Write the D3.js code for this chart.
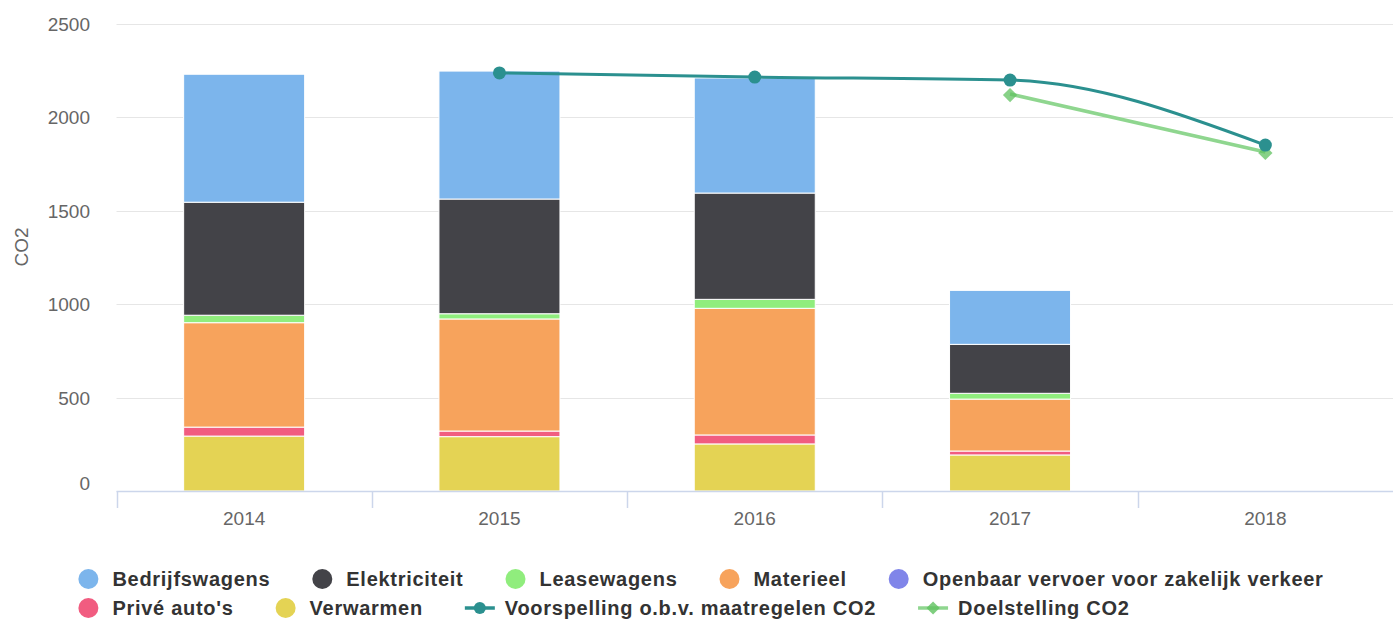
<!DOCTYPE html>
<html><head><meta charset="utf-8">
<script src="https://cdn.jsdelivr.net/npm/d3@7/dist/d3.min.js"></script>
<style>body{margin:0;background:#fff}svg{display:block;font-family:"Liberation Sans",Arial,sans-serif}</style>
</head><body><svg id="c" width="1393" height="621"></svg>
<script>
const years = ["2014","2015","2016","2017","2018"];
const yTicks = [0,500,1000,1500,2000,2500];
const bedrijfswagens = [685, 685, 616, 289, null];
const elektriciteit  = [605, 614, 569, 262, null];
const leasewagens    = [40, 28, 48, 31, null];
const materieel      = [559, 600, 678, 278, null];
const openbaarVervoer= [0, 0, 0, 0, null];
const priveAutos     = [48, 30, 48, 21, null];
const verwarmen      = [294, 291, 252, 193, null];
const voorspelling   = [null, 2238, 2216, 2200, 1852];
const doelstelling   = [null, null, null, 2125, 1815];

const barSeries = [
  {name:"Bedrijfswagens", values:bedrijfswagens, color:"#7cb5ec"},
  {name:"Elektriciteit", values:elektriciteit, color:"#434348"},
  {name:"Leasewagens", values:leasewagens, color:"#90ed7d"},
  {name:"Materieel", values:materieel, color:"#f7a35c"},
  {name:"Openbaar vervoer voor zakelijk verkeer", values:openbaarVervoer, color:"#8085e9"},
  {name:"Privé auto's", values:priveAutos, color:"#f15c80"},
  {name:"Verwarmen", values:verwarmen, color:"#e4d354"}
];

const svg = d3.select("#c");
const L = 116.5, R = 1393, T = 24, B = 491;
const x = d3.scaleBand().domain(years).range([L, R]).paddingInner(0).paddingOuter(0);
const y = d3.scaleLinear().domain([0, 2500]).range([B, T]);

// grid
svg.append("g").selectAll("line").data(yTicks.filter(d=>d>0)).join("line")
  .attr("x1", L).attr("x2", R).attr("y1", d=>Math.round(y(d))+0.5).attr("y2", d=>Math.round(y(d))+0.5)
  .attr("stroke", "#e6e6e6").attr("stroke-width", 1);

// y labels
svg.append("g").selectAll("text").data(yTicks).join("text")
  .attr("x", 90).attr("y", d=> y(d) + 7 - (d===0 ? 8 : 0))
  .attr("text-anchor","end").attr("fill","#666").attr("font-size","19px").text(d=>d);

svg.append("text").attr("transform","translate(28,247) rotate(-90)")
  .attr("text-anchor","middle").attr("fill","#666").attr("font-size","19px").text("CO2");

// stacked bars: first series on top -> stack from last
const stackOrder = barSeries.slice().reverse();
const barW = x.bandwidth()*0.474;
const gBars = svg.append("g");
years.forEach((yr, i) => {
  let base = 0;
  stackOrder.forEach(s => {
    const v = s.values[i];
    if (v == null || v === 0) return;
    const y0 = y(base), y1 = y(base + v);
    gBars.append("rect")
      .attr("x", x(yr) + x.bandwidth()/2 - barW/2)
      .attr("y", y1).attr("width", barW).attr("height", y0 - y1)
      .attr("fill", s.color).attr("stroke", "#fff").attr("stroke-width", 1);
    base += v;
  });
});

// x axis
svg.append("line").attr("x1", L).attr("x2", R).attr("y1", B+0.5).attr("y2", B+0.5)
  .attr("stroke","#ccd6eb").attr("stroke-width",1.5);
svg.append("g").selectAll("line").data(years).join("line")
  .attr("x1", d=>Math.round(x(d))+0.5).attr("x2", d=>Math.round(x(d))+0.5)
  .attr("y1", B).attr("y2", B+17).attr("stroke","#ccd6eb").attr("stroke-width",1.5);
svg.append("g").selectAll("text").data(years).join("text")
  .attr("x", d=>x(d)+x.bandwidth()/2).attr("y", 525)
  .attr("text-anchor","middle").attr("fill","#666").attr("font-size","19px").text(d=>d);

// lines
const cx = d => x(d) + x.bandwidth()/2;
const vData = years.map((d,i)=>({x:d, v:voorspelling[i]})).filter(d=>d.v!=null);
const dData = years.map((d,i)=>({x:d, v:doelstelling[i]})).filter(d=>d.v!=null);
svg.append("path").datum(vData)
  .attr("d", d3.line().x(d=>cx(d.x)).y(d=>y(d.v)).curve(d3.curveMonotoneX))
  .attr("fill","none").attr("stroke","#2b908f").attr("stroke-width",3);
svg.append("path").datum(dData)
  .attr("d", d3.line().x(d=>cx(d.x)).y(d=>y(d.v)))
  .attr("fill","none").attr("stroke","#8fd68f").attr("stroke-width",3.5);
svg.append("g").selectAll("path").data(dData).join("path")
  .attr("d", d3.symbol(d3.symbolDiamond2, 130)())
  .attr("transform", d=>`translate(${cx(d.x)},${y(d.v)+1})`)
  .attr("fill","#5fc25f").attr("opacity",0.75);
svg.append("g").selectAll("circle").data(vData).join("circle")
  .attr("cx", d=>cx(d.x)).attr("cy", d=>y(d.v)).attr("r", 6.5).attr("fill","#2b908f");

// legend
const legendItems = barSeries.map(s=>({name:s.name, color:s.color, type:"circle"}))
  .concat([{name:"Voorspelling o.b.v. maatregelen CO2", color:"#2b908f", type:"line"},
           {name:"Doelstelling CO2", color:"#8fd68f", mcolor:"#5fc25f", type:"diamond"}]);
const lg = svg.append("g");
const LS = "0.72px";
const meas = svg.append("text").attr("font-size","20px").attr("font-weight","bold").attr("letter-spacing",LS).attr("visibility","hidden");
legendItems.forEach(it => { meas.text(it.name); it.tw = meas.node().getComputedTextLength(); it.sw = it.type==="circle" ? 34 : 40; it.w = it.sw + it.tw; });
meas.remove();
const gap = 42, maxW = 1320, rowH = 29;
const rows = [[]]; let cw = 0;
legendItems.forEach(it => {
  const add = (rows[rows.length-1].length ? gap : 0) + it.w;
  if (cw + add > maxW && rows[rows.length-1].length) { rows.push([]); cw = 0; }
  const r = rows[rows.length-1]; cw += (r.length ? gap : 0) + it.w; r.push(it);
});
const rowWidths = rows.map(r => d3.sum(r, d=>d.w) + gap*(r.length-1));
const boxW = d3.max(rowWidths);
const startX = 701 - boxW/2;
rows.forEach((r, ri) => {
  let xx = startX; const cy = 579 + ri*rowH;
  r.forEach(it => {
    const g = lg.append("g").attr("transform", `translate(${xx},${cy})`);
    if (it.type === "circle") {
      g.append("circle").attr("cx",10).attr("cy",0).attr("r",10).attr("fill",it.color);
    } else {
      g.append("line").attr("x1",0).attr("x2",30).attr("y1",0).attr("y2",0).attr("stroke",it.color).attr("stroke-width",3.5);
      if (it.type === "line") g.append("circle").attr("cx",15).attr("cy",0).attr("r",6).attr("fill",it.color);
      else g.append("path").attr("d", d3.symbol(d3.symbolDiamond2, 110)()).attr("transform","translate(15,0)").attr("fill",it.mcolor).attr("opacity",0.8);
    }
    g.append("text").attr("x", it.sw).attr("y", 7).attr("font-size","20px").attr("font-weight","bold")
      .attr("letter-spacing",LS).attr("fill","#333").text(it.name);
    xx += it.w + gap;
  });
});
</script></body></html>
